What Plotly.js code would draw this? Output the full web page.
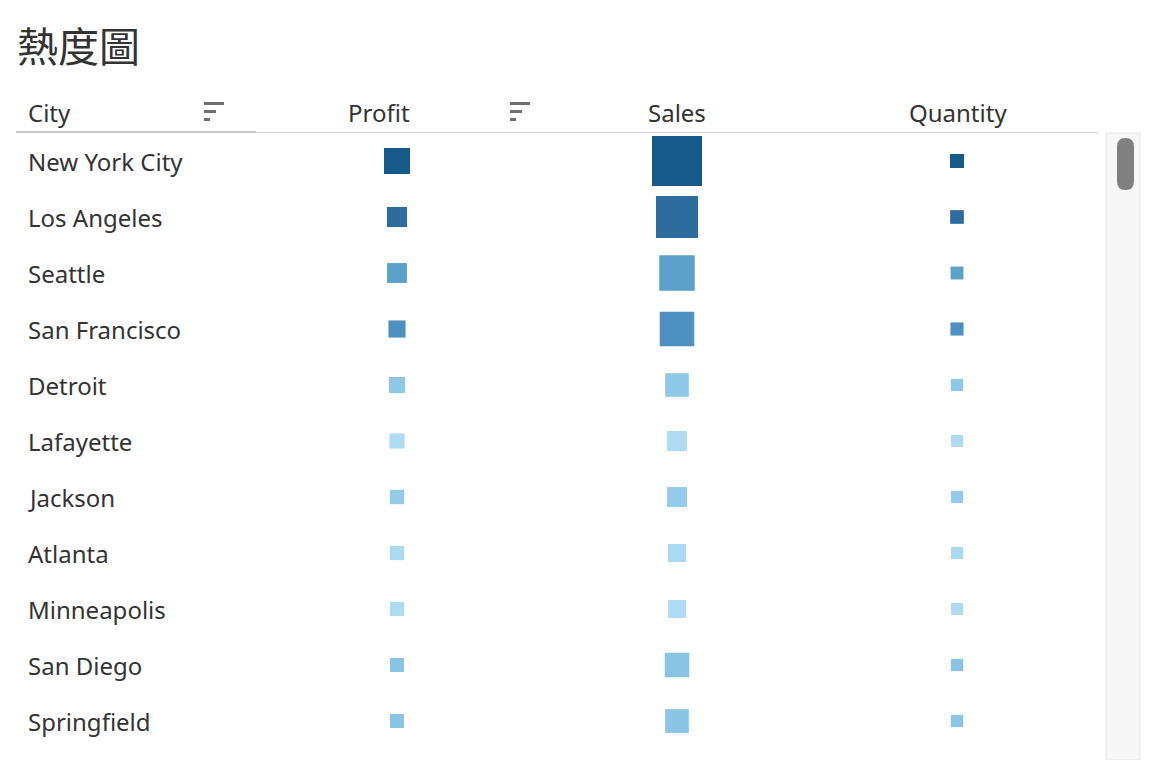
<!DOCTYPE html>
<html>
<head>
<meta charset="utf-8">
<script src="https://cdn.plot.ly/plotly-3.0.1.min.js"></script>
<style>
  html, body { margin: 0; padding: 0; background: #ffffff; }
  #chart { width: 1150px; height: 760px; }
</style>
</head>
<body>
<div id="chart"></div>
<script>
// ---- data ----
var cities = ['New York City', 'Los Angeles', 'Seattle', 'San Francisco', 'Detroit',
              'Lafayette', 'Jackson', 'Atlanta', 'Minneapolis', 'San Diego', 'Springfield'];
var measures = ['Profit', 'Sales', 'Quantity'];
var profit   = [62037, 30441, 29156, 17507, 13181, 10018, 7581, 6994, 6825, 6377, 6200];
var sales    = [256368, 175851, 119541, 112669, 42447, 25037, 24964, 17197, 16870, 47521, 43054];
var quantity = [3417, 2879, 1590, 1935, 560, 260, 450, 280, 260, 670, 649];

// ---- helpers ----
var W = 1150, H = 760;
function px(x) { return x / W; }
function py(y) { return 1 - y / H; }
function sizeScale(vals, smin, smax) {
  var vmin = Math.min.apply(null, vals), vmax = Math.max.apply(null, vals);
  return vals.map(function (v) {
    var t = (v - vmin) / (vmax - vmin);
    return Math.sqrt(smin * smin + (smax * smax - smin * smin) * t);
  });
}
var colorscale = [
  [0.00, '#ADDCF2'], [0.06, '#93CCEA'], [0.13, '#89C4E4'],
  [0.42, '#5CA1CA'], [0.53, '#4E91C1'], [0.83, '#2E6C9E'], [1.00, '#155A88']
];
var qmin = Math.min.apply(null, quantity), qmax = Math.max.apply(null, quantity);

var series = [
  { name: 'Profit', vals: profit, smin: 14, smax: 26 },
  { name: 'Sales', vals: sales, smin: 18, smax: 50 },
  { name: 'Quantity', vals: quantity, smin: 12, smax: 14 }
];

var traces = series.map(function (s) {
  return {
    type: 'scatter',
    mode: 'markers',
    x: cities.map(function () { return s.name; }),
    y: cities,
    marker: {
      symbol: 'square',
      size: sizeScale(s.vals, s.smin, s.smax),
      color: quantity,
      colorscale: colorscale,
      cmin: qmin,
      cmax: qmax,
      showscale: false,
      line: { width: 0 },
      opacity: 1
    },
    text: s.vals.map(function (v) { return s.name + ': ' + v.toLocaleString('en-US'); }),
    hoverinfo: 'y+text',
    showlegend: false,
    cliponaxis: false
  };
});

var txtFont = { family: 'Noto Sans, Open Sans, sans-serif', size: 24, color: '#333333' };

var annotations = [];
cities.forEach(function (c, i) {
  annotations.push({
    xref: 'paper', yref: 'y', x: px(26), y: i,
    text: c, showarrow: false, xanchor: 'left', yanchor: 'middle',
    font: txtFont
  });
});
var headers = [
  { t: 'City', x: 26, anchor: 'left' },
  { t: 'Profit', x: 379, anchor: 'center' },
  { t: 'Sales', x: 677, anchor: 'center' },
  { t: 'Quantity', x: 958, anchor: 'center' }
];
headers.forEach(function (h) {
  annotations.push({
    xref: 'paper', yref: 'paper', x: px(h.x), y: py(113),
    text: h.t, showarrow: false, xanchor: h.anchor, yanchor: 'middle',
    font: txtFont
  });
});

var shapes = [];
function rect(x0, y0, x1, y1, fill, lineColor, lw) {
  shapes.push({
    type: 'rect', xref: 'paper', yref: 'paper',
    x0: px(x0), x1: px(x1), y0: py(y1), y1: py(y0),
    fillcolor: fill, line: { color: lineColor || fill, width: lw || 0 }, layer: 'above'
  });
}
// sort icons
[204, 510].forEach(function (x) {
  rect(x, 102, x + 20, 105, '#6f6f6f');
  rect(x, 110, x + 12, 113, '#6f6f6f');
  rect(x, 118, x + 6, 121, '#6f6f6f');
});
// header separator
rect(16, 132, 1098, 133, '#d6d6d6');
rect(16, 131, 256, 133, '#c8c8c8');
// scrollbar track
rect(1106, 133, 1140, 760, '#f7f7f7', '#e6e6e6', 1);
// scrollbar thumb (rounded)
(function () {
  var x0 = px(1117), x1 = px(1134), r = 8.5;
  var y0 = 138, y1 = 190;
  var path = 'M ' + x0 + ',' + py(y0 + r) +
    ' Q ' + x0 + ',' + py(y0) + ' ' + px(1125.5) + ',' + py(y0) +
    ' Q ' + x1 + ',' + py(y0) + ' ' + x1 + ',' + py(y0 + r) +
    ' L ' + x1 + ',' + py(y1 - r) +
    ' Q ' + x1 + ',' + py(y1) + ' ' + px(1125.5) + ',' + py(y1) +
    ' Q ' + x0 + ',' + py(y1) + ' ' + x0 + ',' + py(y1 - r) + ' Z';
  shapes.push({ type: 'path', xref: 'paper', yref: 'paper', path: path,
    fillcolor: '#808080', line: { width: 0 }, layer: 'above' });
})();

var layout = {
  width: W, height: H,
  margin: { l: 0, r: 0, t: 0, b: 0, pad: 0 },
  paper_bgcolor: '#ffffff', plot_bgcolor: '#ffffff',
  title: {
    text: '熱度圖',
    font: { family: 'Noto Sans CJK TC, Noto Sans CJK SC, sans-serif', size: 41, color: '#333333' },
    x: px(17), xanchor: 'left', xref: 'container',
    y: py(48), yanchor: 'middle', yref: 'container'
  },
  xaxis: {
    type: 'category', categoryorder: 'array', categoryarray: measures,
    range: [-0.5, 2.5], domain: [px(257), px(1097)],
    showgrid: false, zeroline: false, showticklabels: false, showline: false, ticks: '',
    fixedrange: true
  },
  yaxis: {
    type: 'category', categoryorder: 'array', categoryarray: cities,
    range: [10.5, -0.5], domain: [py(749), py(133)],
    showgrid: false, zeroline: false, showticklabels: false, showline: false, ticks: '',
    fixedrange: true
  },
  annotations: annotations,
  shapes: shapes,
  hovermode: 'closest'
};

Plotly.newPlot('chart', traces, layout, { displayModeBar: false, responsive: false });
</script>
</body>
</html>
